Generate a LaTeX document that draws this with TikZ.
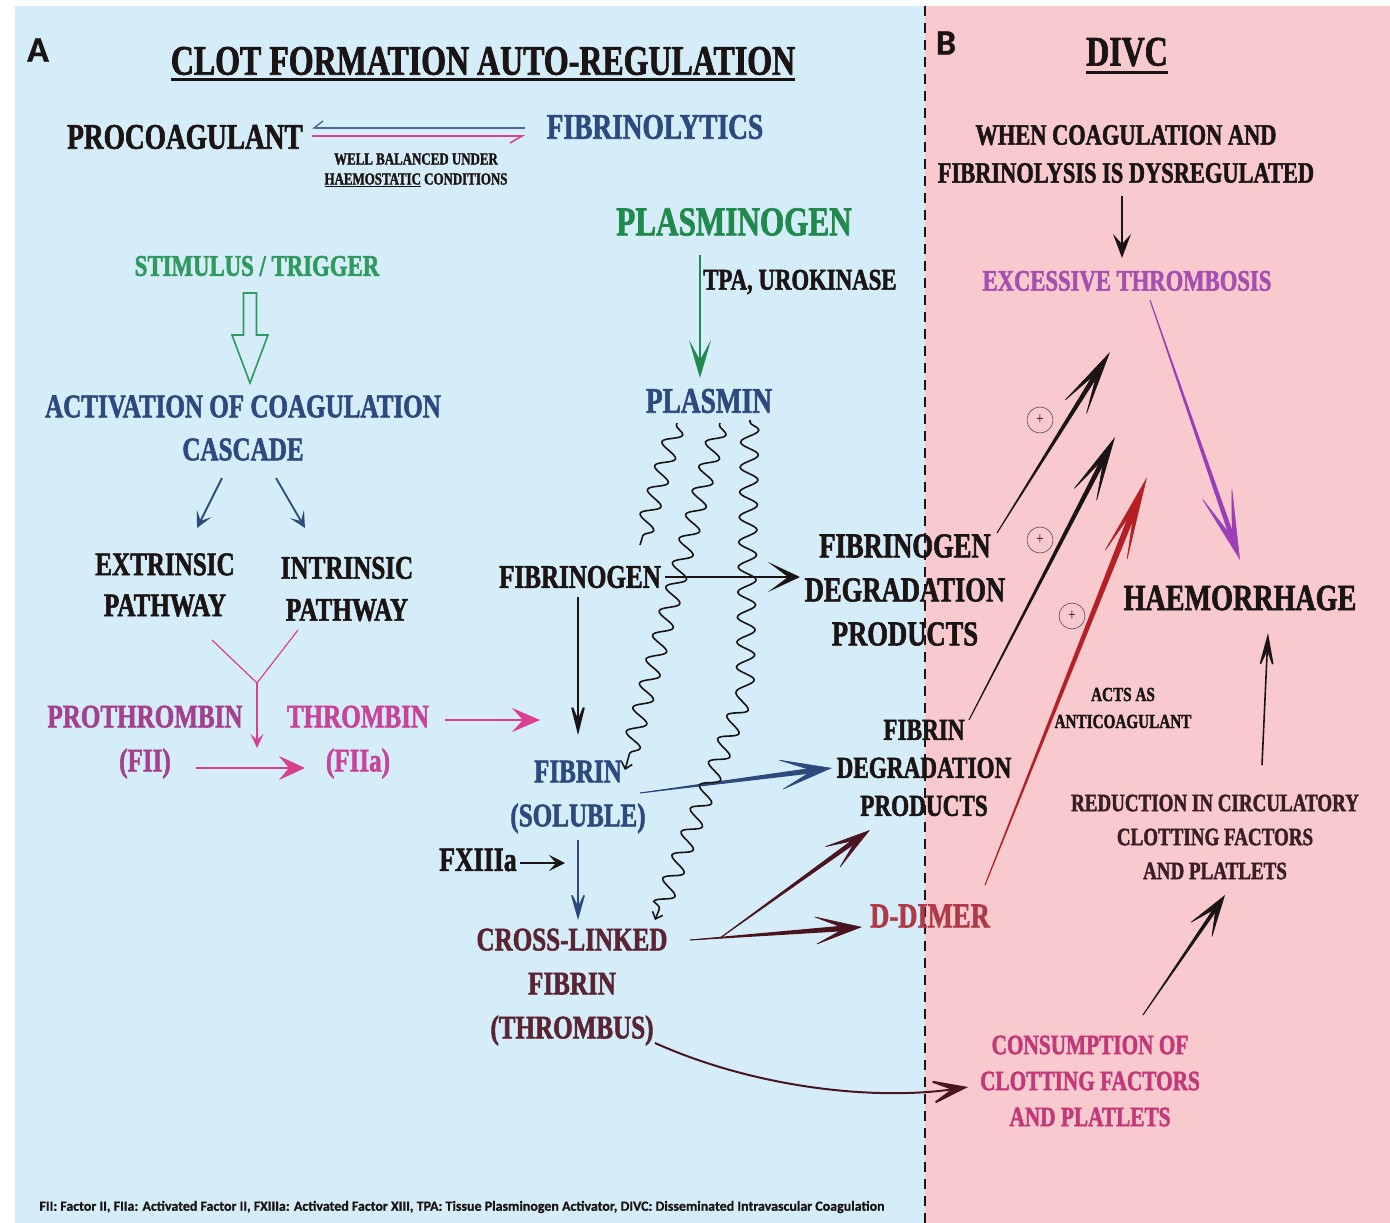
\documentclass[tikz,border=0pt]{standalone}
\usepackage{fontspec}
\setmainfont{Liberation Serif}[FakeStretch=0.76, BoldFeatures={FakeBold=1.6}]
\newfontfamily\labelfont{Carlito}[BoldFeatures={FakeBold=0.8}]
\usetikzlibrary{arrows.meta,calc,decorations.pathmorphing}

\definecolor{bgblue}{HTML}{D5ECF9}
\definecolor{bgpink}{HTML}{F8C9CD}
\definecolor{ink}{HTML}{1A1414}
\definecolor{inkblue}{HTML}{2D4A7E}
\definecolor{inkgreen}{HTML}{1F8A4C}
\definecolor{stimgreen}{HTML}{2E9A5E}
\definecolor{thrpink}{HTML}{C8449A}
\definecolor{prothr}{HTML}{A3418E}
\definecolor{arrpink}{HTML}{DB3F92}
\definecolor{maroon}{HTML}{5A2433}
\definecolor{arrmaroon}{HTML}{4A1520}
\definecolor{ddred}{HTML}{B03A48}
\definecolor{excpurple}{HTML}{A64FB0}
\definecolor{arrpurple}{HTML}{9B3FB8}
\definecolor{conspink}{HTML}{C4387A}
\definecolor{reddark}{HTML}{3A1E26}
\definecolor{arrred}{HTML}{B52025}
\definecolor{eqblue}{HTML}{4A6A9A}

\newcommand{\sz}[2]{\fontsize{#1}{#2}\selectfont}

% tapered arrow: colour, from, to, neck half-width, neck distance from tip, tip options
\newcommand{\taper}[6]{%
  \coordinate (tpneck) at ($(#3)!#5!(#2)$);
  \fill[#1] ($(#2)!0.45pt!90:(#3)$) -- ($(tpneck)!#4!-90:(#2)$) --
            ($(tpneck)!#4!90:(#2)$) -- ($(#2)!0.45pt!-90:(#3)$) -- cycle;
  \draw[#1, line width=0.6pt, -{Stealth[#6]}] (#2) -- (#3);
}

\begin{document}
\begin{tikzpicture}[x=1pt,y=-1pt,
  txt/.style={font=\bfseries, inner sep=0pt, align=center, text=ink},
  plus/.style={circle, draw=ink!75, line width=0.6pt, minimum size=26pt,
               inner sep=0pt, font=\sz{17}{17}, text=ink},
  wavy/.style={draw=ink, line width=1.6pt, decorate,
               decoration={snake, amplitude=9pt, segment length=25pt,
                           pre length=2pt, post length=5pt}},
  wavytip/.style={-{Straight Barb[length=6pt,width=11pt]}}]

\useasboundingbox (0,0) rectangle (1390,1223);
\fill[white] (0,0) rectangle (1390,1223);
\fill[bgblue] (15,6) rectangle (925,1223);
\fill[bgpink] (925,6) rectangle (1390,1223);
\draw[ink, line width=2pt, dash pattern=on 10pt off 7pt] (925,6) -- (925,1223);

% ---------- panel A ----------
\node[font=\labelfont\bfseries\sz{36}{36}, text=ink, inner sep=0pt] (labA) at (38,50) {A};
\node[txt, font=\bfseries\sz{42}{42}] (title) at (483,61) {CLOT FORMATION AUTO-REGULATION};
\draw[ink, line width=3pt] ($(title.south west)+(0,4)$) -- ($(title.south east)+(0,4)$);

\node[txt, font=\bfseries\sz{36}{36}] (procoag) at (185,137) {PROCOAGULANT};
\node[txt, font=\bfseries\sz{36}{36}, text=inkblue] (fibrinolytics) at (655,127) {FIBRINOLYTICS};
\node[txt, font=\bfseries\sz{17}{20}] (balance) at (416,170) {WELL BALANCED UNDER\\\underline{HAEMOSTATIC} CONDITIONS};

\coordinate (eqTR) at ($(fibrinolytics)+(-130,1)$);
\coordinate (eqTL) at ($(procoag)+(127,-9)$);
\coordinate (eqBL) at ($(procoag)+(127,-1)$);
\coordinate (eqBR) at ($(fibrinolytics)+(-130,9)$);
\draw[eqblue, line width=1.4pt, -{Straight Barb[harpoon,swap,length=9pt,width=14pt]}] (eqTR) -- (eqTL);
\draw[arrpink, line width=1.6pt, -{Straight Barb[harpoon,swap,length=12pt,width=14pt]}] (eqBL) -- (eqBR);

\node[txt, font=\bfseries\sz{30}{30}, text=stimgreen] (stimulus) at (257,266) {STIMULUS / TRIGGER};
\node[txt, font=\bfseries\sz{33}{43}, text=inkblue] (activation) at (243,428) {ACTIVATION OF COAGULATION\\CASCADE};

% hollow block arrow
\coordinate (blk) at ($(stimulus)+(-7,27)$);
\draw[stimgreen, line width=1.6pt, line join=miter]
  ($(blk)+(-6.5,0)$) -- ($(blk)+(6.5,0)$) -- ($(blk)+(6.5,42)$) -- ($(blk)+(18,42)$) --
  ($(blk)+(0,90)$) -- ($(blk)+(-18,42)$) -- ($(blk)+(-6.5,42)$) -- cycle;

\node[txt, font=\bfseries\sz{33}{41}] (extrinsic) at (165,585) {EXTRINSIC\\PATHWAY};
\node[txt, font=\bfseries\sz{33}{42}] (intrinsic) at (347,589) {INTRINSIC\\PATHWAY};
\draw[inkblue, line width=1.8pt, -{Stealth[length=16pt,width=16pt,inset=8pt]}]
  ($(activation)+(-21,50)$) -- ($(extrinsic)+(32,-57)$);
\draw[inkblue, line width=1.8pt, -{Stealth[length=16pt,width=16pt,inset=8pt]}]
  ($(activation)+(33,50)$) -- ($(intrinsic)+(-42,-61)$);

\node[txt, font=\bfseries\sz{33}{44}, text=prothr] (prothrombin) at (145,742) {PROTHROMBIN\\(FII)};
\node[txt, font=\bfseries\sz{33}{44}, text=thrpink] (thrombin) at (358,742) {THROMBIN\\(FIIa)};

\coordinate (yj) at ($(prothrombin)+(112,-59)$);
\draw[arrpink, line width=1.2pt] ($(extrinsic)+(47,55)$) -- (yj);
\draw[arrpink, line width=1.2pt] ($(intrinsic)+(-49,41)$) -- (yj);
\draw[arrpink, line width=1.5pt, -{Stealth[length=14pt,width=13pt,inset=6pt]}] (yj) -- ($(prothrombin)+(112,6)$);
\draw[arrpink, line width=2.6pt, -{Stealth[length=26pt,width=24pt,inset=10pt]}]
  ($(prothrombin)+(51,26)$) -- ($(thrombin)+(-53,26)$);

% ---------- fibrinolysis column ----------
\node[txt, font=\bfseries\sz{41}{41}, text=inkgreen] (plasminogen) at (734,222) {PLASMINOGEN};
\node[txt, font=\bfseries\sz{30}{30}, anchor=west] (tpa) at (703,282) {TPA, UROKINASE};
\node[txt, font=\bfseries\sz{36}{36}, text=inkblue] (plasmin) at (709,401) {PLASMIN};
\draw[inkgreen, line width=1.6pt, -{Stealth[length=38pt,width=22pt,inset=20pt]}]
  ($(plasminogen)+(-34,33)$) -- ($(plasmin)+(-9,-23)$);

\node[txt, font=\bfseries\sz{33}{33}] (fibrinogen) at (580,577) {FIBRINOGEN};
\node[txt, font=\bfseries\sz{35}{44}] (fdpA) at (905,590) {FIBRINOGEN\\DEGRADATION\\PRODUCTS};
\node[txt, font=\bfseries\sz{33}{44}, text=inkblue] (fibrin) at (578,797) {FIBRIN\\(SOLUBLE)};
\node[txt, font=\bfseries\sz{30.5}{38}] (fdpB) at (924,768) {FIBRIN\\DEGRADATION\\PRODUCTS};
\node[txt, font=\bfseries\sz{34}{34}] (fxiii) at (478,860) {FXIIIa};
\node[txt, font=\bfseries\sz{33}{44}, text=maroon] (crosslinked) at (572,987) {CROSS-LINKED\\FIBRIN\\(THROMBUS)};
\node[txt, font=\bfseries\sz{35}{35}, text=ddred] (ddimer) at (930,916) {D-DIMER};

\draw[arrpink, line width=2.2pt, -{Stealth[length=28pt,width=24pt,inset=11pt]}]
  ($(thrombin)+(87,-22)$) -- ($(fibrin)+(-38,-77)$);

\draw[ink, line width=2.4pt, -{Stealth[length=32pt,width=30pt,inset=20pt]}]
  ($(fibrinogen)+(85,0)$) -- ($(fdpA)+(-105,-13)$);
\draw[ink, line width=2pt, -{Stealth[length=40pt,width=20pt,inset=24pt]}]
  ($(fibrinogen)+(-2,20)$) -- ($(fibrin)+(0,-62)$);
\draw[ink, line width=2pt, -{Stealth[length=16pt,width=16pt,inset=7pt]}]
  ($(fxiii)+(42,3)$) -- ($(fibrin)+(-13,66)$);
\draw[inkblue, line width=1.5pt, -{Stealth[length=32pt,width=18pt,inset=18pt]}]
  ($(fibrin)+(0,43)$) -- ($(crosslinked)+(6,-67)$);

\coordinate (fsA) at ($(fibrin)+(62,-4)$);
\coordinate (fsB) at ($(fdpB)+(-92,0)$);
\taper{inkblue}{fsA}{fsB}{2.8pt}{20pt}{length=55pt,width=32pt,inset=35pt}

\coordinate (clA) at ($(crosslinked)+(118,-47)$);
\coordinate (clB) at ($(ddimer)+(-68,11)$);
\taper{arrmaroon}{clA}{clB}{2.8pt}{18pt}{length=50pt,width=30pt,inset=32pt}
\coordinate (clC) at ($(crosslinked)+(148,-49)$);
\coordinate (clD) at ($(fdpB)+(-54,62)$);
\taper{arrmaroon}{clC}{clD}{2.5pt}{18pt}{length=50pt,width=28pt,inset=32pt}

% plasmin acting on fibrinogen, fibrin and cross-linked fibrin
\draw[wavy] ($(plasmin)+(-32,22)$) -- ($(fibrinogen)+(60,-32)$);
\draw[wavy, wavytip] ($(plasmin)+(11,22)$) -- ($(fibrin)+(47,-27)$);
\coordinate (s3m) at ($(plasmin)+(36,290)$);
\draw[wavy, wavytip] ($(plasmin)+(41,19)$) -- (s3m) -- ($(crosslinked)+(83,-67)$);

% ---------- panel B ----------
\node[font=\labelfont\bfseries\sz{36}{36}, text=ink, inner sep=0pt] (labB) at (946,43) {B};
\node[txt, font=\bfseries\sz{42}{42}] (divc) at (1127,52) {DIVC};
\draw[ink, line width=3pt] ($(divc.south west)+(0,6)$) -- ($(divc.south east)+(0,6)$);

\node[txt, font=\bfseries\sz{29.5}{38}] (when) at (1126,154) {WHEN COAGULATION AND\\FIBRINOLYSIS IS DYSREGULATED};
\node[txt, font=\bfseries\sz{29.8}{30}, text=excpurple] (excessive) at (1127,281) {EXCESSIVE THROMBOSIS};
\node[txt, font=\bfseries\sz{37}{37}] (haem) at (1240,598) {HAEMORRHAGE};
\node[txt, font=\bfseries\sz{25}{34}, text=reddark] (reduction) at (1215,837) {REDUCTION IN CIRCULATORY\\CLOTTING FACTORS\\AND PLATLETS};
\node[txt, font=\bfseries\sz{28}{36}, text=conspink] (consumption) at (1090,1081) {CONSUMPTION OF\\CLOTTING FACTORS\\AND PLATLETS};
\node[txt, font=\bfseries\sz{20}{27}] (acts) at (1123,708) {ACTS AS\\ANTICOAGULANT};

\draw[ink, line width=1.6pt, -{Stealth[length=24pt,width=18pt,inset=10pt]}]
  ($(when)+(-4,42)$) -- ($(excessive)+(-5,-23)$);

\coordinate (puA) at ($(excessive)+(23,19)$);
\coordinate (puB) at ($(haem)+(0,-38)$);
\taper{arrpurple}{puA}{puB}{2.5pt}{25pt}{length=75pt,width=34pt,inset=50pt}

\coordinate (p1A) at ($(fdpA)+(92,-57)$);
\coordinate (p1B) at ($(excessive)+(-17,71)$);
\taper{ink}{p1A}{p1B}{2.5pt}{25pt}{length=70pt,width=28pt,inset=45pt}
\coordinate (p2A) at ($(fdpB)+(45,-48)$);
\coordinate (p2B) at ($(excessive)+(-12,156)$);
\taper{ink}{p2A}{p2B}{2.5pt}{25pt}{length=70pt,width=28pt,inset=45pt}
\coordinate (p3A) at ($(ddimer)+(55,-31)$);
\coordinate (p3B) at ($(excessive)+(20,196)$);
\taper{arrred}{p3A}{p3B}{3.2pt}{35pt}{length=90pt,width=26pt,inset=55pt}

\node[plus] (pl1) at (1040,420) {+};
\node[plus] (pl2) at (1040,540) {+};
\node[plus] (pl3) at (1072,616) {+};

\draw[ink, line width=1.6pt, -{Stealth[length=40pt,width=18pt,inset=22pt]}]
  ($(reduction)+(47,-72)$) -- ($(haem)+(28,35)$);
\coordinate (coA) at ($(consumption)+(53,-66)$);
\coordinate (coB) at ($(reduction)+(10,58)$);
\taper{ink}{coA}{coB}{2pt}{17pt}{length=45pt,width=28pt,inset=28pt}

% thrombus consuming clotting factors
\draw[arrmaroon, line width=2pt, -{Stealth[length=45pt,width=30pt,inset=28pt]}]
  ($(crosslinked)+(83,56)$) .. controls (760,1090) and (880,1100) .. ($(consumption)+(-122,6)$);

\node[font=\labelfont\bfseries\sz{14}{16}, text=ink, inner sep=0pt] (foot) at (462,1207)
  {\resizebox{845pt}{!}{FII: Factor II, FIIa: Activated Factor II, FXIIIa: Activated Factor XIII, TPA: Tissue Plasminogen Activator, DIVC: Disseminated Intravascular Coagulation}};
\end{tikzpicture}
\end{document}
